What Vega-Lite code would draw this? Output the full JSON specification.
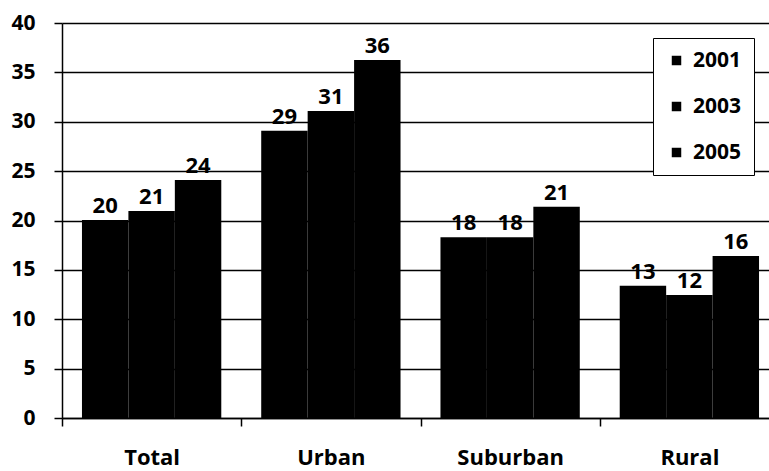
{
  "$schema": "https://vega.github.io/schema/vega-lite/v6.json",
  "autosize": "none",
  "padding": {"left": 62, "top": 23, "right": 0, "bottom": 53},
  "width": 717,
  "height": 395,
  "background": "white",
  "config": {
    "view": {"stroke": null},
    "font": "Open Sans"
  },
  "data": {
    "values": [
      {"area": "Total", "year": "2001", "value": 20.05},
      {"area": "Total", "year": "2003", "value": 20.96},
      {"area": "Total", "year": "2005", "value": 24.1},
      {"area": "Urban", "year": "2001", "value": 29.1},
      {"area": "Urban", "year": "2003", "value": 31.1},
      {"area": "Urban", "year": "2005", "value": 36.25},
      {"area": "Suburban", "year": "2001", "value": 18.3},
      {"area": "Suburban", "year": "2003", "value": 18.3},
      {"area": "Suburban", "year": "2005", "value": 21.4},
      {"area": "Rural", "year": "2001", "value": 13.4},
      {"area": "Rural", "year": "2003", "value": 12.45},
      {"area": "Rural", "year": "2005", "value": 16.4}
    ]
  },
  "encoding": {
    "x": {
      "field": "area",
      "type": "nominal",
      "sort": ["Total", "Urban", "Suburban", "Rural"],
      "scale": {"paddingInner": 0, "paddingOuter": 0},
      "axis": {
        "title": null,
        "labelAngle": 0,
        "labelFont": "Open Sans",
        "labelFontSize": 22,
        "labelFontWeight": "bold",
        "labelColor": "black",
        "labelPadding": 21,
        "domainColor": "black",
        "domainWidth": 1.5,
        "tickColor": "black",
        "tickWidth": 1.5,
        "tickSize": 8,
        "tickBand": "extent"
      }
    },
    "xOffset": {
      "field": "year",
      "type": "nominal",
      "sort": ["2001", "2003", "2005"],
      "scale": {"paddingInner": 0, "paddingOuter": 0.43}
    },
    "y": {
      "field": "value",
      "type": "quantitative",
      "scale": {"domain": [0, 40], "nice": false},
      "axis": {
        "title": null,
        "values": [0, 5, 10, 15, 20, 25, 30, 35, 40],
        "grid": true,
        "gridColor": "black",
        "gridWidth": 1.5,
        "gridOpacity": 1,
        "labelFont": "Open Sans",
        "labelFontSize": 21,
        "labelFontWeight": "bold",
        "labelColor": "black",
        "labelPadding": 19,
        "domainColor": "black",
        "domainWidth": 1.5,
        "tickColor": "black",
        "tickWidth": 1.5,
        "tickSize": 8
      }
    }
  },
  "layer": [
    {
      "mark": {"type": "bar", "fill": "black"},
      "encoding": {
        "color": {
          "field": "year",
          "type": "nominal",
          "scale": {"domain": ["2001", "2003", "2005"], "range": ["black", "black", "black"]},
          "legend": {
            "title": null,
            "orient": "none",
            "legendX": 591,
            "legendY": 15,
            "direction": "vertical",
            "symbolType": "square",
            "symbolSize": 90,
            "symbolFillColor": "black",
            "symbolStrokeWidth": 0,
            "symbolOffset": 1,
            "labelFont": "Open Sans",
            "labelFontSize": 21,
            "labelFontWeight": "bold",
            "labelColor": "black",
            "labelOffset": 6,
            "rowPadding": 24,
            "padding": 12,
            "strokeColor": "black",
            "fillColor": "white"
          }
        }
      }
    },
    {
      "mark": {
        "type": "text",
        "baseline": "bottom",
        "dy": -2,
        "font": "Open Sans",
        "fontSize": 22,
        "fontWeight": "bold",
        "color": "black"
      },
      "encoding": {
        "text": {"field": "value", "type": "quantitative", "format": ".0f"}
      }
    }
  ]
}
